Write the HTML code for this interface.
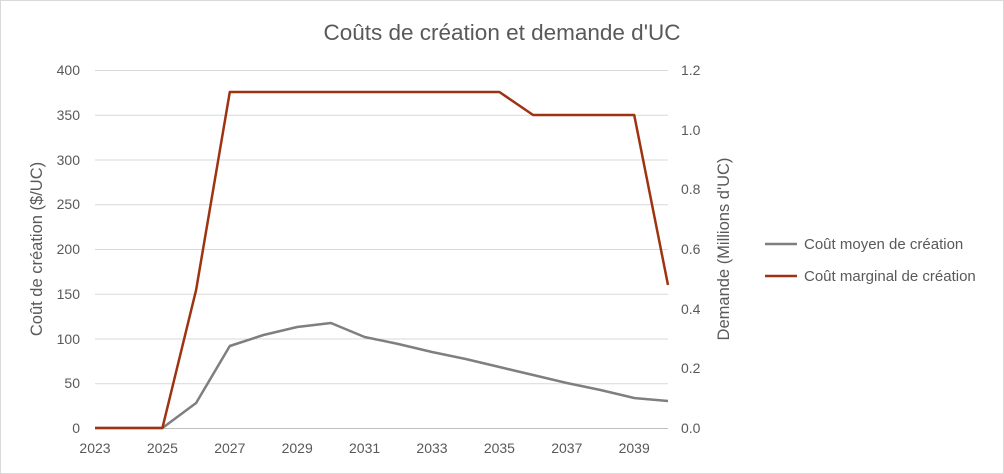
<!DOCTYPE html>
<html><head><meta charset="utf-8"><style>
body{margin:0;background:#fff}
svg{display:block;font-family:"Liberation Sans",sans-serif}
</style></head><body>
<svg width="1004" height="474" viewBox="0 0 1004 474">
<rect x="0.5" y="0.5" width="1003" height="473" fill="#fff" stroke="#d9d9d9"/>
<text x="502" y="40" font-size="22.5" fill="#595959" text-anchor="middle">Coûts de création et demande d'UC</text>
<g stroke="#d9d9d9" stroke-width="1">
<line x1="95" x2="668" y1="70.5" y2="70.5"/>
<line x1="95" x2="668" y1="115.25" y2="115.25"/>
<line x1="95" x2="668" y1="160" y2="160"/>
<line x1="95" x2="668" y1="204.75" y2="204.75"/>
<line x1="95" x2="668" y1="249.5" y2="249.5"/>
<line x1="95" x2="668" y1="294.25" y2="294.25"/>
<line x1="95" x2="668" y1="339" y2="339"/>
<line x1="95" x2="668" y1="383.75" y2="383.75"/>
</g>
<line x1="95" x2="668" y1="428.5" y2="428.5" stroke="#bfbfbf"/>
<g font-size="14" fill="#595959" text-anchor="end">
<text x="80" y="75">400</text><text x="80" y="120">350</text><text x="80" y="165">300</text>
<text x="80" y="209">250</text><text x="80" y="254">200</text><text x="80" y="299">150</text>
<text x="80" y="344">100</text><text x="80" y="388">50</text><text x="80" y="433">0</text>
</g>
<g font-size="14" fill="#595959" text-anchor="start">
<text x="681" y="75">1.2</text><text x="681" y="135">1.0</text><text x="681" y="194">0.8</text>
<text x="681" y="254">0.6</text><text x="681" y="314">0.4</text><text x="681" y="373">0.2</text>
<text x="681" y="433">0.0</text>
</g>
<g font-size="14" fill="#595959" text-anchor="middle">
<text x="95" y="453">2023</text><text x="162.4" y="453">2025</text><text x="229.8" y="453">2027</text>
<text x="297.2" y="453">2029</text><text x="364.6" y="453">2031</text><text x="432" y="453">2033</text>
<text x="499.4" y="453">2035</text><text x="566.8" y="453">2037</text><text x="634.2" y="453">2039</text>
</g>
<text transform="translate(42,249) rotate(-90)" font-size="16.5" fill="#595959" text-anchor="middle">Coût de création ($/UC)</text>
<text transform="translate(729,249) rotate(-90)" font-size="16.5" fill="#595959" text-anchor="middle">Demande (Millions d'UC)</text>
<polyline fill="none" stroke="#7f7f7f" stroke-width="2.5" stroke-linejoin="round" points="95,428 128.7,428 162.4,428 196.1,403 229.8,346 263.5,335 297.2,327 330.9,323 364.6,337 398.3,344 432,352 465.7,359 499.4,367 533.1,375 566.8,383 600.5,390 634.2,398 668,401"/>
<polyline fill="none" stroke="#9e3311" stroke-width="2.5" stroke-linejoin="round" points="95,428 128.7,428 162.4,428 196.1,290 229.8,92 263.5,92 297.2,92 330.9,92 364.6,92 398.3,92 432,92 465.7,92 499.4,92 533.1,115 566.8,115 600.5,115 634.2,115 668,285"/>
<line x1="765" x2="797" y1="244" y2="244" stroke="#7f7f7f" stroke-width="2.5"/>
<text x="804" y="249" font-size="15" fill="#595959">Coût moyen de création</text>
<line x1="765" x2="797" y1="276" y2="276" stroke="#9e3311" stroke-width="2.5"/>
<text x="804" y="281" font-size="15" fill="#595959">Coût marginal de création</text>
</svg>
</body></html>
